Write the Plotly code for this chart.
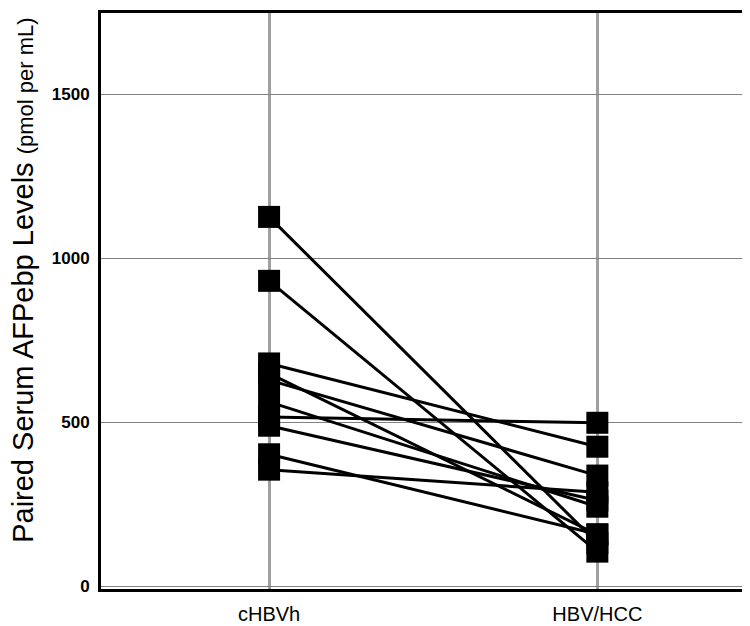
import plotly.graph_objects as go

categories = ["cHBVh", "HBV/HCC"]
chbvh_values = [1126, 931, 679, 649, 628, 562, 516, 489, 402, 355]
hcc_values = [131, 105, 425, 157, 337, 242, 498, 261, 158, 286]
y_tick_vals = [0, 500, 1000, 1500]
y_tick_text = ["0", "500", "1000", "1500"]
y_title = "Paired Serum AFPebp Levels"
y_title_unit = "(pmol per mL)"

fig = go.Figure()
for a, b in zip(chbvh_values, hcc_values):
    fig.add_trace(go.Scatter(
        x=categories, y=[a, b], mode="lines+markers",
        line=dict(color="black", width=3),
        marker=dict(symbol="square", size=22, color="black"),
        showlegend=False, hoverinfo="y",
    ))

# page body has an 8px default margin: figure is sized to fit 750x626 window
fig.update_layout(
    width=742, height=618,
    margin=dict(l=93, r=0, t=5, b=37, autoexpand=False),
    plot_bgcolor="white", paper_bgcolor="white",
    font=dict(family="Liberation Sans, Arial, sans-serif", color="black"),
    showlegend=False,
)
fig.update_xaxes(
    type="category", range=[-0.512, 1.465], automargin=False,
    showgrid=True, gridcolor="#a0a0a0", gridwidth=2.5,
    showline=True, linecolor="black", linewidth=3, mirror=True,
    ticks="", tickfont=dict(size=20, color="black"),
    ticklabelstandoff=5,
)
fig.update_yaxes(
    range=[-9, 1748], tickvals=y_tick_vals, ticktext=y_tick_text,
    automargin=False,
    showgrid=True, gridcolor="#808080", gridwidth=1.2,
    zeroline=False,
    showline=True, linecolor="black", linewidth=3,
    ticks="", tickfont=dict(size=17, color="black", weight="bold"),
    ticklabelstandoff=5,
)
fig.add_annotation(
    text=y_title + " <span style='font-size:22px'>" + y_title_unit + "</span>",
    xref="paper", yref="paper", x=0, y=0.535, xshift=-78,
    xanchor="center", yanchor="middle", textangle=-90,
    showarrow=False, font=dict(size=29, color="black"),
)

fig.write_html("out.html")
